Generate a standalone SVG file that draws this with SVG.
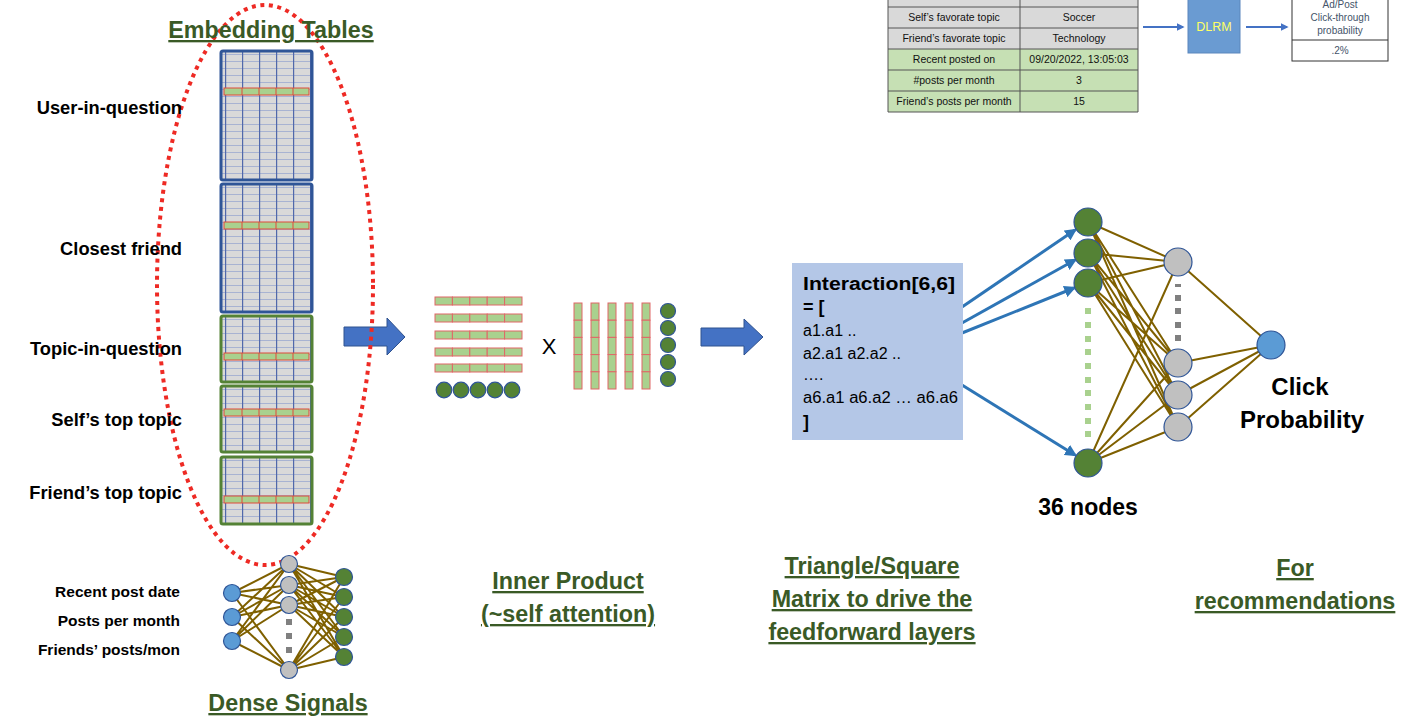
<svg xmlns="http://www.w3.org/2000/svg" width="1402" height="720" viewBox="0 0 1402 720">
<defs>
<style>
text{font-family:"Liberation Sans",Arial,sans-serif;}
.lbl{font-size:18.3px;font-weight:bold;fill:#000;text-anchor:end;}
.dl{font-size:15.5px;font-weight:bold;fill:#000;text-anchor:end;}
.ttl{font-size:23.3px;font-weight:bold;fill:#3a5a26;text-anchor:middle;text-decoration:underline;}
.tc{font-size:10.5px;fill:#111;text-anchor:middle;}
.ob{font-size:10px;fill:#44546a;text-anchor:middle;}
.ol{stroke:#7f6000;stroke-width:2;fill:none;}
.ba{stroke:#2e75b6;stroke-width:3;fill:none;marker-end:url(#ah);}
.sa{stroke:#4472c4;stroke-width:2;fill:none;marker-end:url(#sh);}
.gn{fill:#548235;stroke:#2f5597;stroke-width:1.2;}
.gy{fill:#c0c0c0;stroke:#2f5597;stroke-width:1.2;}
.bn{fill:#5b9bd5;stroke:#2f5597;stroke-width:1.2;}
.cell{fill:#a9d18e;stroke:#e06666;stroke-width:1;}
.gr{fill:#a9d18e;stroke:#e04b3a;stroke-width:1;}
.fat{fill:#4472c4;stroke:#2f528f;stroke-width:1;}
.it{font-size:16px;fill:#000;}
.itb{font-size:18px;font-weight:bold;fill:#000;}
</style>
<pattern id="grid" patternUnits="userSpaceOnUse" x="4" y="3" width="17" height="7">
<rect width="17" height="7" fill="#d9d9d9"/>
<line x1="0" y1="0.4" x2="17" y2="0.4" stroke="#93a3cf" stroke-width="0.8"/>
<line x1="0.6" y1="0" x2="0.6" y2="7" stroke="#5068ab" stroke-width="1.2"/>
</pattern>
<marker id="ah" viewBox="0 0 10 10" refX="8" refY="5" markerWidth="4" markerHeight="4" orient="auto"><path d="M0,0 L10,5 L0,10 z" fill="#2e75b6"/></marker>
<marker id="sh" viewBox="0 0 10 10" refX="8" refY="5" markerWidth="4" markerHeight="4" orient="auto"><path d="M0,0 L10,5 L0,10 z" fill="#4472c4"/></marker>
<g id="greenrow">
<rect class="gr" x="3" y="0" width="85" height="7"/>
<path d="M21,0V7M38,0V7M55,0V7M72,0V7" stroke="#e04b3a" stroke-width="1"/>
</g>
</defs>
<rect width="1402" height="720" fill="#fff"/>

<!-- top-right feature table -->
<g id="feature-table">
<rect x="888" y="-2" width="250" height="9" fill="#d9d9d9"/>
<rect x="888" y="7" width="250" height="42" fill="#d9d9d9"/>
<rect x="888" y="49" width="250" height="63" fill="#c6e0b4"/>
<path d="M888,-2V112H1138V-2M1020,-2V112M888,7H1138M888,28H1138M888,49H1138M888,70H1138M888,91H1138" stroke="#555" stroke-width="1" fill="none"/>
<text class="tc" x="954" y="21">Self’s favorate topic</text>
<text class="tc" x="1079" y="21">Soccer</text>
<text class="tc" x="954" y="42">Friend’s favorate topic</text>
<text class="tc" x="1079" y="42">Technology</text>
<text class="tc" x="954" y="63">Recent posted on</text>
<text class="tc" x="1079" y="63">09/20/2022, 13:05:03</text>
<text class="tc" x="954" y="84">#posts per month</text>
<text class="tc" x="1079" y="84">3</text>
<text class="tc" x="954" y="105">Friend’s posts per month</text>
<text class="tc" x="1079" y="105">15</text>
</g>
<g id="dlrm">
<rect x="1188" y="-1" width="52" height="54" fill="#6a9bd2" stroke="#5a86bd" stroke-width="1"/>
<text x="1214" y="31" font-size="12.5" fill="#ffff66" text-anchor="middle">DLRM</text>
</g>
<g id="ctr-box">
<rect x="1292" y="-1" width="96" height="62" fill="#fff" stroke="#333" stroke-width="1"/>
<line x1="1292" y1="40" x2="1388" y2="40" stroke="#333" stroke-width="1"/>
<text class="ob" x="1340" y="8">Ad/Post</text>
<text class="ob" x="1340" y="21">Click-through</text>
<text class="ob" x="1340" y="34">probability</text>
<text class="ob" x="1340" y="54">.2%</text>
</g>

<!-- connectors -->
<g id="connectors">
<line class="sa" x1="1143" y1="27" x2="1183" y2="27"/>
<line class="sa" x1="1246" y1="27" x2="1287" y2="27"/>
<path class="ol" d="M232,593L289,564M232,593L289,585M232,593L289,605M232,593L289,670M232,617L289,564M232,617L289,585M232,617L289,605M232,617L289,670M232,641L289,564M232,641L289,585M232,641L289,605M232,641L289,670"/>
<path class="ol" d="M289,564L344,577M289,564L344,597M289,564L344,617M289,564L344,637M289,564L344,657M289,585L344,577M289,585L344,597M289,585L344,617M289,585L344,637M289,585L344,657M289,605L344,577M289,605L344,597M289,605L344,617M289,605L344,637M289,605L344,657M289,670L344,577M289,670L344,597M289,670L344,617M289,670L344,637M289,670L344,657"/>
<path class="ol" d="M1088,222L1178,262M1088,222L1178,363M1088,222L1178,395M1088,222L1178,427M1088,253L1178,262M1088,253L1178,363M1088,253L1178,395M1088,253L1178,427M1088,283L1178,262M1088,283L1178,363M1088,283L1178,395M1088,283L1178,427M1088,463L1178,262M1088,463L1178,363M1088,463L1178,395M1088,463L1178,427"/>
<path class="ol" d="M1178,262L1271,345M1178,363L1271,345M1178,395L1271,345M1178,427L1271,345"/>
<line class="ba" x1="962" y1="307" x2="1075" y2="230"/>
<line class="ba" x1="962" y1="323" x2="1075" y2="260"/>
<line class="ba" x1="962" y1="333" x2="1074" y2="288"/>
<line class="ba" x1="962" y1="385" x2="1075" y2="455"/>
</g>

<g id="arrow1"><path class="fat" d="M344,327H387V318L405,337L387,355V346H344Z"/></g>

<ellipse cx="265" cy="285" rx="108" ry="280" fill="none" stroke="#ee2a24" stroke-width="4" stroke-dasharray="4 4.6"/>

<g id="table-user" transform="translate(221,51)">
<rect x="0" y="0" width="91" height="129" rx="2" fill="url(#grid)" stroke="#2f5597" stroke-width="3"/>
<use href="#greenrow" y="37"/>
</g>
<g id="table-friend" transform="translate(221,184)">
<rect x="0" y="0" width="91" height="128" rx="2" fill="url(#grid)" stroke="#2f5597" stroke-width="3"/>
<use href="#greenrow" y="38"/>
</g>
<g id="table-topic" transform="translate(221,316)">
<rect x="0" y="0" width="91" height="66" rx="2" fill="url(#grid)" stroke="#548235" stroke-width="3"/>
<use href="#greenrow" y="37"/>
</g>
<g id="table-self" transform="translate(221,386)">
<rect x="0" y="0" width="91" height="66" rx="2" fill="url(#grid)" stroke="#548235" stroke-width="3"/>
<use href="#greenrow" y="23"/>
</g>
<g id="table-friendtopic" transform="translate(221,457)">
<rect x="0" y="0" width="91" height="67" rx="2" fill="url(#grid)" stroke="#548235" stroke-width="3"/>
<use href="#greenrow" y="39"/>
</g>

<g id="title-embedding"><text class="ttl" x="271" y="38">Embedding Tables</text></g>

<g id="labels-left">
<text class="lbl" x="182" y="114">User-in-question</text>
<text class="lbl" x="182" y="255">Closest friend</text>
<text class="lbl" x="182" y="355">Topic-in-question</text>
<text class="lbl" x="182" y="426">Self’s top topic</text>
<text class="lbl" x="182" y="499">Friend’s top topic</text>
<text class="dl" x="180" y="597">Recent post date</text>
<text class="dl" x="180" y="626">Posts per month</text>
<text class="dl" x="180" y="655">Friends’ posts/mon</text>
</g>

<g id="dense-net">
<circle class="bn" cx="232" cy="593" r="8.5"/>
<circle class="bn" cx="232" cy="617" r="8.5"/>
<circle class="bn" cx="232" cy="641" r="8.5"/>
<circle class="gy" cx="289" cy="564" r="8.5"/>
<circle class="gy" cx="289" cy="585" r="8.5"/>
<circle class="gy" cx="289" cy="605" r="8.5"/>
<circle class="gy" cx="289" cy="670" r="8.5"/>
<rect x="286" y="619" width="6" height="6" fill="#808080"/>
<rect x="286" y="633" width="6" height="6" fill="#808080"/>
<rect x="286" y="647" width="6" height="6" fill="#808080"/>
<circle class="gn" cx="344" cy="577" r="8.5"/>
<circle class="gn" cx="344" cy="597" r="8.5"/>
<circle class="gn" cx="344" cy="617" r="8.5"/>
<circle class="gn" cx="344" cy="637" r="8.5"/>
<circle class="gn" cx="344" cy="657" r="8.5"/>
</g>
<g id="title-dense"><text class="ttl" x="288" y="711">Dense Signals</text></g>

<g id="inner-left">
<g id="hrow">
<rect class="cell" x="435" y="297" width="17.4" height="8"/>
<rect class="cell" x="452.4" y="297" width="17.4" height="8"/>
<rect class="cell" x="469.8" y="297" width="17.4" height="8"/>
<rect class="cell" x="487.2" y="297" width="17.4" height="8"/>
<rect class="cell" x="504.6" y="297" width="17.4" height="8"/>
</g>
<use href="#hrow" y="17"/>
<use href="#hrow" y="34"/>
<use href="#hrow" y="51"/>
<use href="#hrow" y="67"/>
<circle class="gn" cx="444" cy="390" r="7.8"/>
<circle class="gn" cx="461" cy="390" r="7.8"/>
<circle class="gn" cx="478" cy="390" r="7.8"/>
<circle class="gn" cx="495" cy="390" r="7.8"/>
<circle class="gn" cx="512" cy="390" r="7.8"/>
</g>
<text x="549" y="354" font-size="22" text-anchor="middle" fill="#000">X</text>
<g id="inner-right">
<g id="vcol">
<rect class="cell" x="574" y="303" width="8" height="17.2"/>
<rect class="cell" x="574" y="320.2" width="8" height="17.2"/>
<rect class="cell" x="574" y="337.4" width="8" height="17.2"/>
<rect class="cell" x="574" y="354.6" width="8" height="17.2"/>
<rect class="cell" x="574" y="371.8" width="8" height="17.2"/>
</g>
<use href="#vcol" x="17"/>
<use href="#vcol" x="34"/>
<use href="#vcol" x="51"/>
<use href="#vcol" x="68"/>
<circle class="gn" cx="668" cy="311" r="7.5"/>
<circle class="gn" cx="668" cy="328" r="7.5"/>
<circle class="gn" cx="668" cy="345" r="7.5"/>
<circle class="gn" cx="668" cy="362" r="7.5"/>
<circle class="gn" cx="668" cy="379" r="7.5"/>
</g>
<g id="title-inner">
<text class="ttl" x="568" y="589">Inner Product</text>
<text class="ttl" x="568" y="622">(~self attention)</text>
</g>

<g id="arrow2"><path class="fat" d="M701,328H744V319L763,337L744,355V346H701Z"/></g>

<g id="interaction">
<rect x="792" y="263" width="171" height="177" fill="#b4c7e7"/>
<text class="itb" x="803" y="290" textLength="152" lengthAdjust="spacingAndGlyphs">Interaction[6,6]</text>
<text class="itb" x="803" y="313">= [</text>
<text class="it" x="803" y="336">a1.a1 ..</text>
<text class="it" x="803" y="359">a2.a1 a2.a2 ..</text>
<text class="it" x="803" y="380">….</text>
<text class="it" x="803" y="403" textLength="155" lengthAdjust="spacingAndGlyphs">a6.a1 a6.a2 … a6.a6</text>
<text class="itb" x="803" y="428">]</text>
</g>
<g id="title-triangle">
<text class="ttl" x="872" y="574">Triangle/Square </text>
<text class="ttl" x="872" y="607">Matrix to drive the </text>
<text class="ttl" x="872" y="640">feedforward layers</text>
</g>

<g id="ff-net">
<circle class="gn" cx="1088" cy="222" r="14"/>
<circle class="gn" cx="1088" cy="253" r="14"/>
<circle class="gn" cx="1088" cy="283" r="14"/>
<circle class="gn" cx="1088" cy="463" r="14"/>
<g fill="#a9d18e">
<rect x="1085" y="308" width="6" height="6"/>
<rect x="1085" y="322" width="6" height="6"/>
<rect x="1085" y="336" width="6" height="6"/>
<rect x="1085" y="349" width="6" height="6"/>
<rect x="1085" y="363" width="6" height="6"/>
<rect x="1085" y="377" width="6" height="6"/>
<rect x="1085" y="390" width="6" height="6"/>
<rect x="1085" y="404" width="6" height="6"/>
<rect x="1085" y="418" width="6" height="6"/>
<rect x="1085" y="431" width="6" height="6"/>
</g>
<circle class="gy" cx="1178" cy="262" r="14"/>
<circle class="gy" cx="1178" cy="363" r="14"/>
<circle class="gy" cx="1178" cy="395" r="14"/>
<circle class="gy" cx="1178" cy="427" r="14"/>
<g fill="#808080">
<rect x="1175" y="284" width="6" height="3"/>
<rect x="1175" y="295" width="6" height="6"/>
<rect x="1175" y="308" width="6" height="6"/>
<rect x="1175" y="322" width="6" height="6"/>
<rect x="1175" y="335" width="6" height="6"/>
</g>
<circle class="bn" cx="1271" cy="345" r="14"/>
</g>
<text x="1088" y="515" font-size="23" font-weight="bold" text-anchor="middle" fill="#000">36 nodes</text>
<g id="click-label">
<text x="1300" y="395" font-size="24" font-weight="bold" text-anchor="middle" fill="#000">Click</text>
<text x="1302" y="428" font-size="24" font-weight="bold" text-anchor="middle" fill="#000">Probability</text>
</g>
<g id="title-for">
<text class="ttl" x="1295" y="576">For </text>
<text class="ttl" x="1295" y="609">recommendations</text>
</g>
</svg>
